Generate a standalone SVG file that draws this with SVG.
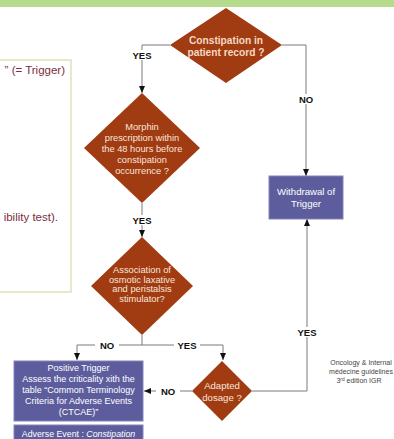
<svg xmlns="http://www.w3.org/2000/svg" width="394" height="439" viewBox="0 0 394 439">
<style>
.dia{fill:#a13b12;}
.box{fill:#5d5d9d;stroke:#8383b8;stroke-width:1;}
.dt{font-family:"Liberation Sans",Arial,sans-serif;font-size:9.3px;fill:#f7e6dc;text-anchor:middle;}
.bt{font-family:"Liberation Sans",Arial,sans-serif;font-size:9px;fill:#ffffff;text-anchor:middle;}
.lbl{font-family:"Liberation Sans",Arial,sans-serif;font-size:9.5px;font-weight:bold;fill:#111;text-anchor:middle;}
.ln{fill:none;stroke:#7a7a7a;stroke-width:1;}
.lt{font-family:"Liberation Sans",Arial,sans-serif;font-size:11.5px;fill:#7a2e3e;text-anchor:end;}
.fn{font-family:"Liberation Sans",Arial,sans-serif;font-size:7px;fill:#444;text-anchor:middle;}
</style>
<defs>
<marker id="ah" markerWidth="8" markerHeight="9" refX="7" refY="4.5" orient="auto" markerUnits="userSpaceOnUse">
<path d="M0,1.5 L7,4.5 L0,7.5 Z" fill="#111"/>
</marker>
</defs>
<rect x="0" y="0" width="394" height="439" fill="#ffffff"/>
<rect x="0" y="0" width="394" height="7" fill="#b7db8c"/>
<g id="note">
<rect x="-10" y="60" width="81" height="232" fill="#ffffff" stroke="#dde3b8" stroke-width="1.5"/>
<text class="lt" x="65" y="74">” (= Trigger)</text>
<text class="lt" x="58" y="221">ibility test).</text>
</g>
<g id="connectors">
<polyline class="ln" points="170,45 142,45 142,93" marker-end="url(#ah)"/>
<polyline class="ln" points="142,203 142,237" marker-end="url(#ah)"/>
<polyline class="ln" points="142,335 142,345 77,345 77,360" marker-end="url(#ah)"/>
<polyline class="ln" points="142,345 223,345 223,360" marker-end="url(#ah)"/>
<polyline class="ln" points="192,391 144,391" marker-end="url(#ah)"/>
<polyline class="ln" points="252,391 307,391 307,219" marker-end="url(#ah)"/>
<polyline class="ln" points="282,45 306,45 306,176" marker-end="url(#ah)"/>
<rect x="129" y="50" width="26" height="10" fill="#fff"/>
<text class="lbl" x="142" y="58.5">YES</text>
<rect x="129" y="215" width="26" height="10" fill="#fff"/>
<text class="lbl" x="142" y="223.5">YES</text>
<rect x="95" y="340" width="24" height="10" fill="#fff"/>
<text class="lbl" x="107" y="348.5">NO</text>
<rect x="174" y="340" width="26" height="10" fill="#fff"/>
<text class="lbl" x="187" y="348.5">YES</text>
<rect x="156" y="386" width="24" height="10" fill="#fff"/>
<text class="lbl" x="168" y="394.5">NO</text>
<rect x="294" y="327" width="26" height="10" fill="#fff"/>
<text class="lbl" x="307" y="335.5">YES</text>
<rect x="294" y="94" width="24" height="10" fill="#fff"/>
<text class="lbl" x="306" y="102.5">NO</text>
</g>
<g id="d1">
<polygon class="dia" points="226,8 282,45 226,83 170,45"/>
<text class="dt" x="226" y="44" style="font-weight:bold;font-size:10.2px;fill:#f6d9c2">Constipation in</text>
<text class="dt" x="226" y="56" style="font-weight:bold;font-size:10.2px;fill:#f6d9c2">patient record ?</text>
</g>
<g id="d2">
<polygon class="dia" points="142,93 200,148 142,203 84,148"/>
<text class="dt" x="142" y="130">Morphin</text>
<text class="dt" x="142" y="141">prescription within</text>
<text class="dt" x="142" y="152">the 48 hours before</text>
<text class="dt" x="142" y="163">constipation</text>
<text class="dt" x="142" y="174">occurrence ?</text>
</g>
<g id="d3">
<polygon class="dia" points="142,237 193,286 142,335 91,286"/>
<text class="dt" x="142" y="273">Association of</text>
<text class="dt" x="142" y="282.5">osmotic laxative</text>
<text class="dt" x="142" y="292">and peristalsis</text>
<text class="dt" x="142" y="301.5">stimulator?</text>
</g>
<g id="d4">
<polygon class="dia" points="222,361 252,391 222,421 192,391"/>
<text class="dt" x="222" y="389" style="font-size:9.6px">Adapted</text>
<text class="dt" x="222" y="400.5" style="font-size:9.6px">dosage ?</text>
</g>
<g id="withdrawal">
<rect class="box" x="269" y="176" width="74" height="43"/>
<text class="bt" x="306" y="195" style="font-size:9.6px">Withdrawal of</text>
<text class="bt" x="306" y="206.5" style="font-size:9.6px">Trigger</text>
</g>
<g id="positive">
<rect class="box" x="14" y="361" width="129" height="60"/>
<text class="bt" x="78.5" y="370.5">Positive Trigger</text>
<text class="bt" x="78.5" y="382">Assess the criticality xith the</text>
<text class="bt" x="78.5" y="393">table “Common Terminology</text>
<text class="bt" x="78.5" y="404">Criteria for Adverse Events</text>
<text class="bt" x="78.5" y="415">(CTCAE)”</text>
</g>
<g id="adverse">
<rect class="box" x="14" y="425" width="129" height="20"/>
<text class="bt" x="78.5" y="436.5" style="font-size:8.8px">Adverse Event : <tspan font-style="italic">Constipation</tspan></text>
</g>
<g id="footnote">
<text class="fn" x="361" y="365">Oncology &amp; Internal</text>
<text class="fn" x="361" y="374">médecine guidelines</text>
<text class="fn" x="359" y="383">3<tspan font-size="4.8" dy="-2">rd</tspan><tspan dy="2"> edition IGR</tspan></text>
</g>
</svg>
